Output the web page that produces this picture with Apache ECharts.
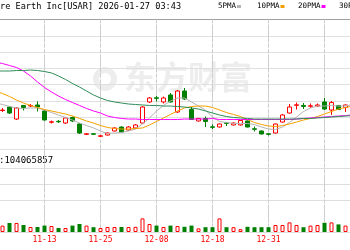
<!DOCTYPE html>
<html><head><meta charset="utf-8">
<script src="https://cdn.jsdelivr.net/npm/echarts@6/dist/echarts.min.js"></script>
<style>html,body{margin:0;padding:0;background:#fff}#c{width:350px;height:250px}</style>
</head><body><div id="c"></div>
<script>
const categories = ['11-03','11-04','11-05','11-06','11-07','11-10','11-11','11-12','11-13','11-14','11-17','11-18','11-19','11-20','11-21','11-24','11-25','11-26','11-28','12-01','12-02','12-03','12-04','12-05','12-08','12-09','12-10','12-11','12-12','12-15','12-16','12-17','12-18','12-19','12-22','12-23','12-24','12-26','12-29','12-30','12-31','01-02','01-05','01-06','01-07','01-08','01-09','01-12','01-13','01-14','01-15','01-16','01-20'];
const tickLabels = ['11-13','11-25','12-08','12-18','12-31','01-13'];

const openP = [null,null,16.80,17.23,15.75,17.42,17.35,17.48,16.74,15.35,15.47,15.26,15.94,15.14,13.87,13.93,13.62,13.78,14.28,14.77,14.40,14.65,15.26,17.85,18.36,17.85,18.71,16.62,19.20,16.92,15.51,15.82,14.79,14.77,15.29,15.02,15.02,15.51,14.55,14.28,13.93,14.03,15.38,16.49,17.44,17.42,17.32,17.35,17.85,16.86,17.42,17.17,17.72];
const closeP = [null,null,16.86,16.49,17.11,17.17,17.42,17.23,15.63,15.41,15.41,15.88,15.51,14.03,13.93,13.88,13.69,14.03,14.65,14.15,14.77,15.02,17.23,18.34,18.30,18.34,17.85,19.20,18.22,15.69,15.82,15.45,14.73,15.14,15.22,15.26,15.57,14.77,14.49,13.91,13.87,15.14,16.25,17.23,17.50,17.29,17.38,17.48,16.98,17.78,16.92,17.48,18.34];
const lowP = [null,null,16.62,16.37,15.63,16.80,17.23,16.68,15.57,15.20,15.26,15.14,15.38,13.91,13.78,13.78,13.54,13.72,14.22,14.09,14.34,14.58,15.20,17.72,17.91,17.66,17.78,16.49,18.09,15.63,15.45,14.77,14.52,14.71,14.89,14.95,14.95,14.71,14.22,13.85,13.72,13.97,15.32,16.43,16.92,16.98,17.11,17.23,16.86,16.25,16.86,16.62,17.66];
const highP = [null,null,17.11,17.35,17.23,17.48,17.60,17.91,16.86,15.57,15.63,16.00,16.06,15.26,14.03,14.03,13.78,14.09,14.71,14.83,14.89,15.14,17.35,18.46,18.58,18.52,18.95,19.32,19.57,17.23,15.88,16.06,15.08,15.20,15.38,15.32,15.63,15.57,14.83,14.34,14.03,15.20,16.37,17.60,17.78,17.72,17.66,17.66,18.34,17.97,17.48,17.54,18.58];

const ma5 = [null,17.72,17.54,17.29,17.11,17.05,17.11,17.11,16.86,16.55,16.25,15.94,15.63,15.26,14.95,14.65,14.28,13.97,14.03,14.09,14.28,14.52,15.14,15.88,16.74,17.42,17.97,18.34,18.34,17.85,17.35,16.86,16.00,15.45,15.32,15.20,15.20,15.20,15.08,14.77,14.52,14.46,14.77,15.32,16.00,16.68,17.11,17.35,17.35,17.42,17.35,17.35,17.54];
const ma10 = [null,19.20,18.89,18.52,18.09,17.72,17.42,17.17,16.92,16.74,16.55,16.37,16.12,15.82,15.51,15.26,14.95,14.71,14.58,14.52,14.52,14.58,14.65,15.02,15.45,15.88,16.31,16.74,17.11,17.29,17.35,17.35,17.17,16.86,16.55,16.31,16.06,15.69,15.32,15.08,14.89,14.83,14.95,15.14,15.38,15.63,15.82,16.06,16.37,16.68,16.98,17.17,17.35];
const ma20 = [null,22.77,22.58,22.34,22.09,21.66,21.05,20.31,19.63,19.08,18.58,18.15,17.78,17.42,17.05,16.74,16.49,16.12,15.94,15.82,15.75,15.75,15.69,15.69,15.69,15.69,15.69,15.69,15.75,15.75,15.75,15.75,15.82,15.69,15.69,15.69,15.69,15.69,15.69,15.69,15.69,15.69,15.69,15.69,15.75,15.82,15.88,15.94,16.00,16.06,16.12,16.18,16.25];
const ma30 = [null,21.66,21.66,21.66,21.72,21.72,21.78,21.72,21.60,21.42,21.05,20.62,20.12,19.69,19.20,18.71,18.34,18.03,17.85,17.72,17.60,17.54,17.48,17.42,17.42,17.35,17.35,17.29,17.23,17.11,16.98,16.74,16.49,16.25,16.06,15.94,15.88,15.82,15.75,15.75,15.75,15.75,15.75,15.75,15.75,15.82,15.82,15.88,15.94,16.00,16.06,16.12,16.18];

const volume = [null,null,16000000,22500000,22500000,17500000,12500000,12500000,16000000,15000000,10000000,10000000,16000000,20000000,16000000,12000000,10000000,12500000,12500000,12500000,12500000,13000000,34000000,20000000,16000000,12500000,16000000,15000000,13000000,16000000,9000000,12000000,12000000,34000000,12000000,12000000,7000000,13000000,12000000,12000000,12000000,17500000,17500000,24000000,17500000,12000000,16000000,17500000,23000000,24000000,19000000,16000000,34000000];

const titleText = 're Earth Inc[USAR] 2026-01-27 03:43';
const volText = ':104065857';
const legendNames = ['5PMA','10PMA','20PMA','30PMA'];
const watermarkText = '东方财富';

const UP = '#ff0000', DOWN = '#008000';
const maColors = ['#b4b4b4','#f5a000','#ff00ff','#2e8b57'];

const candleData = categories.map((_, j) => openP[j] == null ? '-' : [openP[j], closeP[j], lowP[j], highP[j]]);
const volData = categories.map((_, j) => {
  if (volume[j] == null) return '-';
  const up = closeP[j] >= openP[j];
  return { value: volume[j], itemStyle: up ? { color: '#ffffff', borderColor: UP, borderWidth: 1 } : { color: DOWN, borderColor: DOWN, borderWidth: 0 } };
});

const legendX = [218, 257, 298, 339];
const graphics = [
  { type: 'text', x: 124, y: 77, z: 0, silent: true, style: { text: watermarkText, font: 'bold 32px "Noto Sans CJK SC"', fill: '#ededed', verticalAlign: 'middle' } },
  { type: 'ring', shape: { cx: 105, cy: 79, r: 12, r0: 6 }, z: 0, silent: true, style: { fill: '#ededed' } },
  { type: 'text', x: 0, y: 6.5, style: { text: titleText, font: '8.6px "DejaVu Sans Mono"', fill: '#000', verticalAlign: 'middle' } },
  { type: 'text', x: -1, y: 160.5, style: { text: volText, font: '9px "DejaVu Sans Mono"', fill: '#000', verticalAlign: 'middle' } }
];
legendNames.forEach((n, i) => {
  graphics.push({ type: 'text', x: legendX[i], y: 6.5, style: { text: n, font: '7.5px "DejaVu Sans Mono"', fill: '#000', verticalAlign: 'middle' } });
  graphics.push({ type: 'rect', shape: { x: legendX[i] + n.length * 4.5 + 1, y: 5, width: 4, height: 3 }, style: { fill: maColors[i] } });
});

const mainSplit = ['#e0e0e0','#e0e0e0','#e0e0e0','#e0e0e0','#e0e0e0','#e0e0e0','#e0e0e0','#e0e0e0','#a0a0a0'];
const volSplit = ['#dddddd','rgba(0,0,0,0)','#dddddd','#dddddd','#dddddd','rgba(0,0,0,0)','rgba(0,0,0,0)'];

const chart = echarts.init(document.getElementById('c'), null, { renderer: 'canvas' });
chart.setOption({
  animation: false,
  backgroundColor: '#fff',
  graphic: graphics,
  grid: [
    { left: -15, right: -6, top: 19.5, bottom: 100.5, outerBoundsMode: 'none', containLabel: false },
    { left: -15, right: -6, top: 149.5, bottom: 18, outerBoundsMode: 'none', containLabel: false },
    // grid used only for the dashed date lines: spans category 0 .. 52 centres
    { left: -11.5, right: -2.5, top: 19.5, bottom: 18, outerBoundsMode: 'none', containLabel: false }
  ],
  xAxis: [
    { type: 'category', gridIndex: 0, data: categories, boundaryGap: true, axisLine: { show: false }, axisTick: { show: false }, axisLabel: { show: false }, splitLine: { show: false } },
    { type: 'category', gridIndex: 1, data: categories, boundaryGap: true, axisLine: { show: false }, axisTick: { show: false },
      axisLabel: { show: true, interval: 7, color: '#ff0000', fontFamily: 'DejaVu Sans Mono', fontSize: 8, margin: 4, hideOverlap: false, showMinLabel: true, showMaxLabel: false }, splitLine: { show: false } },
    { type: 'value', gridIndex: 2, min: 0, max: categories.length - 1, interval: 8, axisLine: { show: false }, axisTick: { show: false }, axisLabel: { show: false },
      splitLine: { show: true, lineStyle: { color: '#cccccc', width: 1, type: 'dashed' } } }
  ],
  yAxis: [
    { type: 'value', gridIndex: 0, min: 12, max: 28, interval: 2, axisLine: { show: false }, axisTick: { show: false }, axisLabel: { show: false },
      splitLine: { show: true, lineStyle: { color: mainSplit, width: 1 } } },
    { type: 'value', gridIndex: 1, min: 0, max: 206250000, interval: 40000000, axisLine: { show: false }, axisTick: { show: false }, axisLabel: { show: false },
      splitLine: { show: true, lineStyle: { color: volSplit, width: 1 } } },
    { type: 'value', gridIndex: 2, min: 0, max: 1, axisLine: { show: false }, axisTick: { show: false }, axisLabel: { show: false }, splitLine: { show: false } }
  ],
  series: [
    { type: 'candlestick', name: 'K', xAxisIndex: 0, yAxisIndex: 0, data: candleData, barWidth: 4, z: 3,
      itemStyle: { color: '#ffffff', color0: DOWN, borderColor: UP, borderColor0: DOWN, borderWidth: 1 } },
    { type: 'line', name: '5PMA', xAxisIndex: 0, yAxisIndex: 0, data: ma5, symbol: 'none', lineStyle: { color: maColors[0], width: 1 }, z: 4 },
    { type: 'line', name: '10PMA', xAxisIndex: 0, yAxisIndex: 0, data: ma10, symbol: 'none', lineStyle: { color: maColors[1], width: 1 }, z: 4 },
    { type: 'line', name: '20PMA', xAxisIndex: 0, yAxisIndex: 0, data: ma20, symbol: 'none', lineStyle: { color: maColors[2], width: 1 }, z: 4 },
    { type: 'line', name: '30PMA', xAxisIndex: 0, yAxisIndex: 0, data: ma30, symbol: 'none', lineStyle: { color: maColors[3], width: 1 }, z: 4 },
    { type: 'bar', name: 'VOL', xAxisIndex: 1, yAxisIndex: 1, data: volData, barWidth: 4 },
    { type: 'line', name: 'dateGrid', xAxisIndex: 2, yAxisIndex: 2, data: [[0, 0.5]], symbol: 'none', lineStyle: { width: 0 }, silent: true }
  ]
});

// second, independent way of placing the dashed date lines via the chart's own scale
const dashes = [];
tickLabels.forEach(t => {
  const top = chart.convertToPixel({ gridIndex: 0 }, [t, 28]);
  const bot = chart.convertToPixel({ gridIndex: 1 }, [t, 0]);
  if (!top || !bot) return;
  const x = top[0], yTop = top[1], yBot = bot[1];
  if (!isFinite(x) || !isFinite(yTop) || !isFinite(yBot)) return;
  for (let y = yTop; y < yBot; y += 5) {
    dashes.push({ type: 'rect', z: 1, silent: true,
      shape: { x: x - 0.5, y: y, width: 1, height: Math.min(3, yBot - y) },
      style: { fill: '#cccccc' } });
  }
});
if (dashes.length) chart.setOption({ graphic: graphics.concat(dashes) });
</script></body></html>
